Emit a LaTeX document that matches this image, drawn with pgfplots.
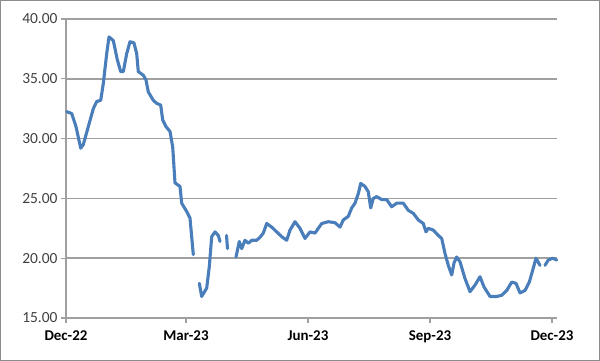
\documentclass[border=0pt]{standalone}
\usepackage{pgfplots}
\pgfplotsset{compat=1.18}
\usepackage{fontspec}
\setmainfont{Carlito}
\definecolor{lineblue}{HTML}{4A7EBB}
\definecolor{gridgray}{HTML}{A0A0A0}
\definecolor{framegray}{HTML}{8C8C8C}
\definecolor{labelgray}{HTML}{404040}
\begin{document}
\begin{tikzpicture}
\path[use as bounding box] (-66bp,-43bp) rectangle (534bp,318bp);
\draw[framegray, line width=1.5bp] (-65.25bp,-42.25bp) rectangle (533.25bp,317.25bp);
\begin{axis}[
  at={(0,0)}, anchor=south west,
  scale only axis, width=491bp, height=299bp,
  xmin=66, xmax=557, ymin=15, ymax=40,
  xtick={66,186,308,430,552},
  xticklabels={Dec-22,Mar-23,Jun-23,Sep-23,Dec-23},
  ytick={15,20,25,30,35,40},
  /pgf/number format/assume math mode=true,
  yticklabel style={/pgf/number format/.cd, fixed, fixed zerofill, precision=2, /tikz/.cd, text=labelgray},
  ticklabel style={font=\fontsize{15.5}{17}\selectfont},
  xticklabel style={font=\fontsize{15}{17}\selectfont\bfseries, text=black, yshift=-4bp},
  tick align=outside, major tick length=5bp,
  tick style={gridgray, line width=1.2bp},
  axis x line*=bottom, axis y line*=left,
  axis line style={gridgray, line width=1.5bp, -},
  ymajorgrids, major grid style={gridgray, line width=1.5bp},
  unbounded coords=jump,
  clip=false,
]
\addplot[lineblue, line width=3.1bp, line join=round, line cap=round] coordinates {
(66.7,32.25)(71.7,32.1)(76,31.0)(80.7,29.2)(83.3,29.5)(88.3,31.0)(93.3,32.5)(96.7,33.1)
(100.7,33.2)(103.3,34.6)(106.7,37.1)(109,38.5)(113.3,38.2)(117.3,36.6)(120.7,35.6)(123.3,35.6)
(126.7,37.1)(130,38.1)(134,38.0)(136.7,37.1)(138.3,35.6)(143.3,35.3)(146,34.9)(148.3,33.9)
(153.3,33.2)(156.7,32.95)(160.7,32.8)(162.7,31.55)(166,31.0)(170,30.6)(172.7,29.3)(175,26.3)
(180,26.0)(181.7,24.6)(186.7,23.9)(190,23.35)(193.3,20.3)
(194,nan)
(199.3,17.9)(201.7,16.8)(206.7,17.5)(209.3,19.3)(211.7,21.8)(215,22.2)(218.3,21.9)(220,21.4)
(222,nan)
(226.5,21.9)(227.5,20.8)
(230,nan)
(236,20.1)(239.3,21.4)(241.7,20.8)(245,21.5)(248.3,21.25)(251.7,21.5)(256.7,21.5)(260,21.75)
(263.3,22.1)(266.7,22.9)(271.7,22.6)(276.7,22.2)(281.7,21.8)(286.7,21.5)(290,22.35)(295,23.05)
(300,22.5)(305,21.65)(310,22.2)(315,22.1)(321.7,22.9)(328.3,23.05)(335,22.97)(340,22.6)
(343.3,23.2)(348.3,23.5)(351.7,24.2)(355,24.6)(358.3,25.4)(360.7,26.25)(365,26.0)(368.3,25.55)
(370.7,24.2)(373.3,25.0)(376.7,25.15)(381.7,24.9)(386.7,24.9)(391.7,24.3)(396.7,24.6)(403.3,24.6)
(408.3,24.0)(413.3,23.75)(418.3,23.2)(423.3,22.9)(426,22.2)(428.3,22.5)(433.3,22.35)(438.3,21.9)
(441.7,21.65)(445,20.4)(448.3,19.4)(451.7,18.6)(454,19.6)(456.7,20.1)(460,19.7)(465,18.3)
(470,17.2)(475,17.75)(480,18.45)(484,17.6)(490,16.8)(496.7,16.8)(501.7,16.9)(506.7,17.3)
(511.7,18.0)(516,17.9)(520,17.1)(525,17.3)(529.3,18.0)(532.7,19.0)(536,20.0)(540,19.4)
(542,nan)
(545,19.4)(548.3,19.85)(552.7,20.0)(556.7,19.85)
};
\end{axis}
\end{tikzpicture}
\end{document}
